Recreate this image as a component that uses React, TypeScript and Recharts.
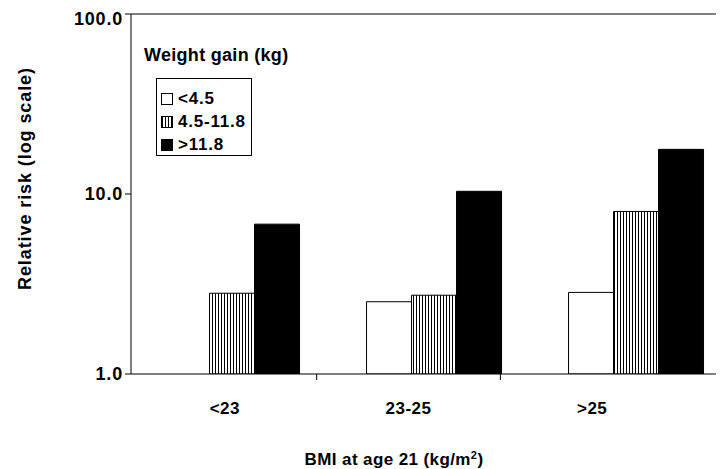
import { Bar, BarChart, XAxis, YAxis, Legend, ReferenceLine, Label } from "recharts";

const categories = ["<23", "23-25", ">25"];
const lowGain = [1.0, 2.52, 2.84];
const midGain = [2.81, 2.74, 8.0];
const highGain = [6.8, 10.35, 17.7];
const seriesNames = ["<4.5", "4.5-11.8", ">11.8"];
const yTicks = [1, 10, 100];

const data = categories.map((name, i) => ({
    name,
    low: lowGain[i],
    mid: midGain[i],
    high: highGain[i],
}));

const FONT = "'Liberation Sans', Arial, Helvetica, sans-serif";

const CategoryTick = ({ x, y, payload, index }: any) => {
    const band = 183.7;
    return (
        <g>
            {index < categories.length - 1 && (
                <line x1={x + band / 2} x2={x + band / 2} y1={y} y2={y + 6} stroke="#000" />
            )}
            <text x={x} y={y + 40} textAnchor="middle" fill="#000" fontSize={17} fontWeight="bold" fontFamily={FONT} letterSpacing={0.5}>
                {payload.value}
            </text>
        </g>
    );
};

const LegendBox = () => {
    const swatches = [
        { background: "#fff" },
        { background: "repeating-linear-gradient(90deg, #000 0px, #000 1px, #fff 1px, #fff 3px)" },
        { background: "#000" },
    ];
    return (
        <div style={{ position: "relative", width: 200, height: 120, fontFamily: FONT, fontWeight: "bold", color: "#000" }}>
            <div style={{ position: "absolute", left: 0, top: 0, fontSize: 18, lineHeight: "18px", whiteSpace: "nowrap", letterSpacing: 0.3 }}>
                Weight gain (kg)
            </div>
            <div style={{ position: "absolute", left: 12, top: 32, width: 96, height: 78, border: "1px solid #000", boxSizing: "border-box" }}>
                {seriesNames.map((n, i) => (
                    <div key={n} style={{ position: "absolute", left: 4, top: 10 + i * 23, height: 20, display: "flex", alignItems: "center", whiteSpace: "nowrap" }}>
                        <span style={{ display: "inline-block", width: 10, height: 10, border: "1px solid #000", ...swatches[i] }} />
                        <span style={{ marginLeft: 5, fontSize: 17, letterSpacing: 0.8 }}>{n}</span>
                    </div>
                ))}
            </div>
        </div>
    );
};

export default function App() {
    return (
        <div style={{ width: 716, height: 461, overflow: "hidden", position: "relative" }}>
            <BarChart
                width={729}
                height={461}
                data={data}
                margin={{ top: 6, right: 0, left: 0, bottom: 0 }}
                barCategoryGap="16.6%"
                barGap={0}
            >
                <defs>
                    <pattern id="vstripe" width={3} height={10} patternUnits="userSpaceOnUse">
                        <rect x={0} y={0} width={3} height={10} fill="#fff" />
                        <line x1={0.5} x2={0.5} y1={0} y2={10} stroke="#000" strokeWidth={1} />
                    </pattern>
                </defs>
                <XAxis dataKey="name" hide height={0} />
                <XAxis
                    xAxisId="lbl"
                    dataKey="name"
                    height={95}
                    padding={{ left: 2, right: 53 }}
                    axisLine={{ stroke: "#000" }}
                    tickLine={false}
                    tickSize={0}
                    tickMargin={0}
                    tick={<CategoryTick />}
                    interval={0}
                >
                    <Label
                        content={({ viewBox }: any) => (
                            <text x={viewBox.x + 263} y={457} textAnchor="middle" fill="#000" fontSize={17} fontWeight="bold" fontFamily={FONT} letterSpacing={0.4}>
                                BMI at age 21 (kg/m
                                <tspan dy={-6} fontSize={11}>2</tspan>
                                <tspan dy={6}>)</tspan>
                            </text>
                        )}
                    />
                </XAxis>
                <YAxis
                    type="number"
                    scale="log"
                    domain={[1, 100]}
                    allowDataOverflow
                    ticks={yTicks}
                    width={123}
                    tickSize={6}
                    axisLine={{ stroke: "#000" }}
                    tickLine={{ stroke: "#000" }}
                    tickFormatter={(v: number) => v.toFixed(1)}
                    tick={{ fill: "#000", fontSize: 18, fontWeight: "bold", fontFamily: FONT, letterSpacing: 0.8 }}
                >
                    <Label
                        content={() => (
                            <text
                                x={17}
                                y={171}
                                transform="rotate(-90 17 171)"
                                textAnchor="middle"
                                dominantBaseline="central"
                                fill="#000"
                                fontSize={18}
                                fontWeight="bold"
                                fontFamily={FONT}
                                textLength={222}
                                lengthAdjust="spacing"
                            >
                                Relative risk (log scale)
                            </text>
                        )}
                    />
                </YAxis>
                <ReferenceLine y={100} stroke="#000" />
                <Legend
                    layout="vertical"
                    align="center"
                    verticalAlign="middle"
                    content={<LegendBox />}
                    wrapperStyle={{ left: 136, top: 38 }}
                />
                <Bar dataKey="low" name={seriesNames[0]} fill="#fff" stroke="#000" strokeWidth={1} isAnimationActive={false} />
                <Bar dataKey="mid" name={seriesNames[1]} fill="url(#vstripe)" stroke="#000" strokeWidth={1} isAnimationActive={false} />
                <Bar dataKey="high" name={seriesNames[2]} fill="#000" stroke="#000" strokeWidth={1} isAnimationActive={false} />
            </BarChart>
        </div>
    );
}
